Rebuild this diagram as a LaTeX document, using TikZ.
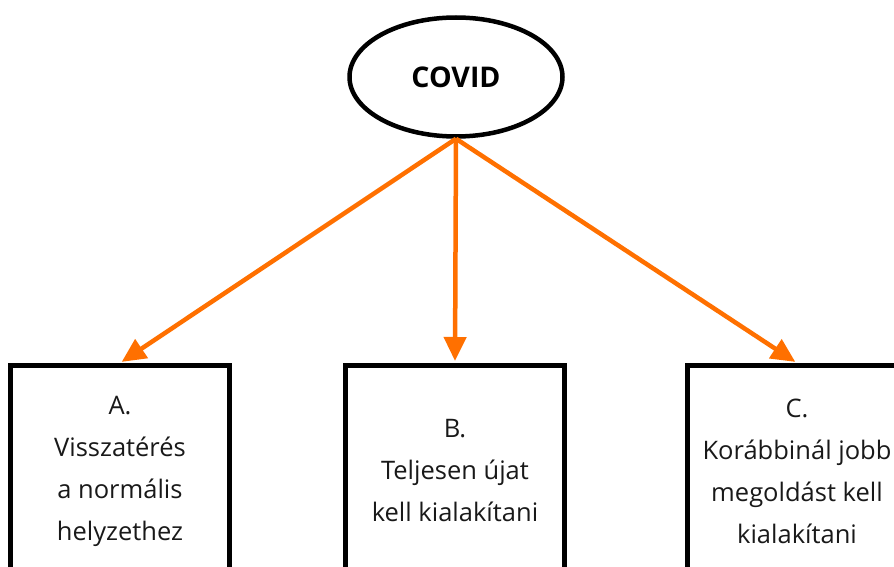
\documentclass[tikz,border=0pt]{standalone}
\usepackage{fontspec}
\setmainfont{Open Sans}
\usetikzlibrary{shapes.geometric,arrows.meta}
\definecolor{arroworange}{RGB}{255,112,0}
\tikzset{
  boxnode/.style={draw=black,line width=5pt,rectangle,minimum width=219pt,minimum height=211pt,
    align=center,font=\fontsize{25.5}{42}\selectfont,text=black!90,inner sep=0pt},
  covidnode/.style={draw=black,line width=4.5pt,ellipse,minimum width=213pt,minimum height=119pt,
    font=\bfseries\fontsize{28.5}{30}\selectfont,inner sep=0pt},
  branch/.style={draw=arroworange,line width=4.5pt,-{Triangle[length=24pt,width=22pt]},shorten >=2pt}
}
\begin{document}
\begin{tikzpicture}[x=1pt,y=-1pt]
\useasboundingbox (0,0) rectangle (894,567);
\clip (0,0) rectangle (894,567);
\node[covidnode] (covid) at (456,77) {COVID};
\node[boxnode] (a) at (120,471) {A.\\Visszatérés\\a normális\\helyzethez};
\node[boxnode] (b) at (455,471) {B.\\Teljesen újat\\kell kialakítani};
\node[boxnode] (c) at (797,471) {C.\\Korábbinál jobb\\megoldást kell\\kialakítani};
\draw[branch] (covid.south) -- (a.north);
\draw[branch] (covid.south) -- (b.north);
\draw[branch] (covid.south) -- (c.north);
\end{tikzpicture}
\end{document}
